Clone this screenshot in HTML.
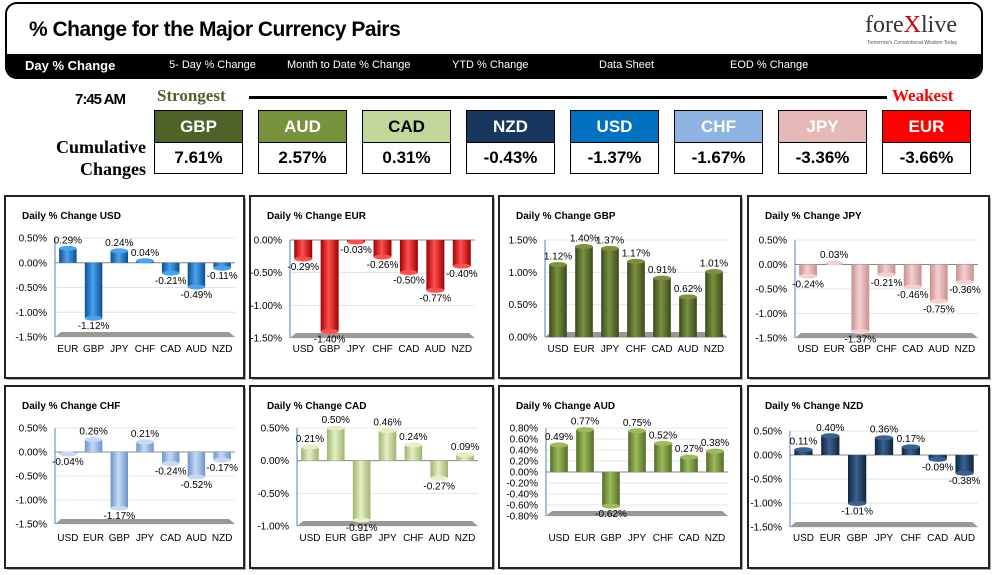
<!DOCTYPE html>
<html><head><meta charset="utf-8"><style>
body{margin:0;width:996px;height:575px;background:#fff;font-family:"Liberation Sans",sans-serif;position:relative;overflow:hidden}
.abs{position:absolute}
.hdr{left:5px;top:2px;width:974px;height:73px;border:2px solid #000;border-radius:12px;overflow:hidden}
.title{left:22px;top:14px;font-size:21px;font-weight:bold;letter-spacing:-0.5px}
.nav{left:0;top:50px;width:100%;height:23px;background:#000;color:#fff;font-size:11px}
.nav span{position:absolute;top:5px}
.box{width:87px;border:1px solid #000}
.bh{height:31px;font-size:17px;font-weight:bold;text-align:center;line-height:31px;border-bottom:1px solid #000}
.bv{height:30px;font-size:17px;font-weight:bold;text-align:center;line-height:30px;background:#fff}
.panel{border:2px solid #222;box-shadow:2px 2px 2px #999;background:#fff}
</style></head><body>
<div class="abs hdr">
<div class="abs title">% Change for the Major Currency Pairs</div>
<div class="abs" style="left:858px;top:8px;font-size:24px;font-family:'Liberation Serif',serif;color:#333">fore<span style="color:#c00">X</span>live</div>
<div class="abs" style="left:860px;top:36px;font-size:5px;color:#555">Tomorrow's Conventional Wisdom Today</div>
<div class="abs nav">
<span style="left:18px;font-size:13px;font-weight:bold;top:4px">Day % Change</span>
<span style="left:162px">5- Day % Change</span>
<span style="left:280px">Month to Date % Change</span>
<span style="left:445px">YTD % Change</span>
<span style="left:592px">Data Sheet</span>
<span style="left:723px">EOD % Change</span>
</div></div>
<div class="abs" style="left:75px;top:91px;font-size:15px;font-weight:bold;letter-spacing:-1px">7:45 AM</div>
<div class="abs" style="left:157px;top:86px;font-size:17px;font-weight:bold;color:#4f6228;font-family:'Liberation Serif',serif">Strongest</div>
<div class="abs" style="left:249px;top:96px;width:638px;height:3px;background:#000"></div>
<div class="abs" style="left:892px;top:86px;font-size:17px;font-weight:bold;color:#f00;font-family:'Liberation Serif',serif">Weakest</div>
<div class="abs" style="left:50px;top:136px;font-size:18px;font-weight:bold;text-align:right;width:96px;line-height:22px;font-family:'Liberation Serif',serif">Cumulative<br>Changes</div>
<div id="boxes"></div>
<div id="charts"></div>
<script>
const rankCurrencies=["GBP","AUD","CAD","NZD","USD","CHF","JPY","EUR"];
const rankValues=["7.61%","2.57%","0.31%","-0.43%","-1.37%","-1.67%","-3.36%","-3.66%"];
const rankColors=["#4f6228","#77933c","#c4d79b","#17375e","#0070c0","#8db4e2","#e6b9b8","#ff0000"];
const rankText=["#fff","#fff","#000","#fff","#fff","#fff","#fff","#fff"];
const bx=document.getElementById('boxes');
rankCurrencies.forEach((c,i)=>{
 const d=document.createElement('div');
 d.className='abs box';d.style.left=(154+i*104)+'px';d.style.top='110px';
 
 
 d.innerHTML='<div class="bh" style="background:'+rankColors[i]+';color:'+rankText[i]+'">'+c+'</div><div class="bv">'+rankValues[i]+'</div>';
 bx.appendChild(d);
});

const usdCats=["EUR","GBP","JPY","CHF","CAD","AUD","NZD"];
const usdVals=[0.29,-1.12,0.24,0.04,-0.21,-0.49,-0.11];
const eurCats=["USD","GBP","JPY","CHF","CAD","AUD","NZD"];
const eurVals=[-0.29,-1.40,-0.03,-0.26,-0.50,-0.77,-0.40];
const gbpCats=["USD","EUR","JPY","CHF","CAD","AUD","NZD"];
const gbpVals=[1.12,1.40,1.37,1.17,0.91,0.62,1.01];
const jpyCats=["USD","EUR","GBP","CHF","CAD","AUD","NZD"];
const jpyVals=[-0.24,0.03,-1.37,-0.21,-0.46,-0.75,-0.36];
const chfCats=["USD","EUR","GBP","JPY","CAD","AUD","NZD"];
const chfVals=[-0.04,0.26,-1.17,0.21,-0.24,-0.52,-0.17];
const cadCats=["USD","EUR","GBP","JPY","CHF","AUD","NZD"];
const cadVals=[0.21,0.50,-0.91,0.46,0.24,-0.27,0.09];
const audCats=["USD","EUR","GBP","JPY","CHF","CAD","NZD"];
const audVals=[0.49,0.77,-0.62,0.75,0.52,0.27,0.38];
const nzdCats=["USD","EUR","GBP","JPY","CHF","CAD","AUD"];
const nzdVals=[0.11,0.40,-1.01,0.36,0.17,-0.09,-0.38];
const usdTicks=[0.5,0,-0.5,-1,-1.5];
const eurTicks=[0,-0.5,-1,-1.5];
const gbpTicks=[1.5,1,0.5,0];
const audTicks=[0.8,0.6,0.4,0.2,0,-0.2,-0.4,-0.6,-0.8];
const cadTicks=[0.5,0,-0.5,-1];

const charts=[
 {k:'usd',t:'Daily % Change USD',cats:usdCats,vals:usdVals,ticks:usdTicks,c:['#0b4f8f','#4aa3f0'],px:5,py:196,w:239,h:182,x0:55,x1:235,yt:238,yb:337,ly:352},
 {k:'eur',t:'Daily % Change EUR',cats:eurCats,vals:eurVals,ticks:eurTicks,c:['#a00000','#ff5050'],px:250,py:196,w:243,h:182,x0:290,x1:475,yt:240,yb:338,ly:352},
 {k:'gbp',t:'Daily % Change GBP',cats:gbpCats,vals:gbpVals,ticks:gbpTicks,c:['#3b4a1c','#7a9140'],px:499,py:196,w:242,h:182,x0:545,x1:727,yt:240,yb:337,ly:352},
 {k:'jpy',t:'Daily % Change JPY',cats:jpyCats,vals:jpyVals,ticks:usdTicks,c:['#c99090','#f5d0d0'],px:748,py:196,w:241,h:182,x0:795,x1:978,yt:240,yb:338,ly:352},
 {k:'chf',t:'Daily % Change CHF',cats:chfCats,vals:chfVals,ticks:usdTicks,c:['#6b95c8','#c5daf5'],px:5,py:386,w:239,h:182,x0:55,x1:235,yt:428,yb:524,ly:541},
 {k:'cad',t:'Daily % Change CAD',cats:cadCats,vals:cadVals,ticks:cadTicks,c:['#9fb470','#e3f0c4'],px:250,py:386,w:243,h:182,x0:297,x1:478,yt:428,yb:526,ly:541},
 {k:'aud',t:'Daily % Change AUD',cats:audCats,vals:audVals,ticks:audTicks,c:['#566e28','#9cbb5a'],px:499,py:386,w:242,h:182,x0:546,x1:728,yt:428,yb:516,ly:541},
 {k:'nzd',t:'Daily % Change NZD',cats:nzdCats,vals:nzdVals,ticks:usdTicks,c:['#0f2540','#3a6290'],px:748,py:386,w:241,h:182,x0:790,x1:978,yt:431,yb:527,ly:541},
];
const NS='http://www.w3.org/2000/svg';
const svg=document.createElementNS(NS,'svg');
svg.setAttribute('width','996');svg.setAttribute('height','575');
svg.setAttribute('style','position:absolute;left:0;top:0');
document.getElementById('charts').appendChild(svg);
function el(tag,attrs,parent){const e=document.createElementNS(NS,tag);for(const a in attrs)e.setAttribute(a,attrs[a]);parent.appendChild(e);return e;}
const defs=el('defs',{},svg);
charts.forEach(ch=>{
 const g=el('g',{},svg);
 
 
 el('rect',{x:ch.px+2,y:ch.py+2,width:ch.w,height:ch.h,fill:'#aaa'},g);
 el('rect',{x:ch.px,y:ch.py,width:ch.w,height:ch.h,fill:'#fff',stroke:'#222','stroke-width':2},g);
 const tt=el('text',{x:ch.px+17,y:ch.py+23,'font-size':10,'font-weight':'bold'},g);tt.textContent=ch.t;
 
 
 const gr=el('linearGradient',{id:'g'+ch.k,x1:0,x2:1,y1:0,y2:0},defs);
 el('stop',{offset:'0','stop-color':ch.c[0]},gr);el('stop',{offset:'0.45','stop-color':ch.c[1]},gr);el('stop',{offset:'1','stop-color':ch.c[0]},gr);
 const tmax=Math.max(...ch.ticks),tmin=Math.min(...ch.ticks);
 const y=v=>ch.yt+(tmax-v)/(tmax-tmin)*(ch.yb-ch.yt);
 const dec=ch.k==='aud'?2:2;
 ch.ticks.forEach(t=>{
  el('line',{x1:ch.x0,x2:ch.x1,y1:y(t),y2:y(t),stroke:'#e4e4e4'},g);
  const l=el('text',{x:ch.x0-8,y:y(t)+3.5,'font-size':10,'text-anchor':'end'},g);
  l.textContent=t.toFixed(dec)+'%';
 });
 el('polygon',{points:`${ch.x0},${ch.yb} ${ch.x1},${ch.yb} ${ch.x1-6},${ch.yb-5} ${ch.x0+6},${ch.yb-5}`,fill:'#999'},g);
 el('line',{x1:ch.x0,x2:ch.x0,y1:ch.yt,y2:ch.yb,stroke:'#4f81bd'},g);
 el('line',{x1:ch.x0,x2:ch.x1,y1:y(0),y2:y(0),stroke:'#888'},g);
 const slot=(ch.x1-ch.x0)/ch.cats.length,bw=slot*0.68;
 ch.cats.forEach((c,i)=>{
  const cx=ch.x0+slot*(i+0.5),v=ch.vals[i];
  const y0=y(0),y1=y(v);
  const r=el('rect',{x:cx-bw/2,y:Math.min(y0,y1),width:bw,height:Math.max(1.5,Math.abs(y1-y0)),fill:'url(#g'+ch.k+')'},g);
  
  
  el('ellipse',{cx:cx,cy:y1,rx:bw/2,ry:2.5,fill:ch.c[1]},g);
  const vl=el('text',{x:cx,y:v>=0?y1-5:y1+11,'font-size':10,'text-anchor':'middle'},g);
  vl.textContent=v.toFixed(2)+'%';
  const cl=el('text',{x:cx,y:ch.ly,'font-size':10,'text-anchor':'middle'},g);
  cl.textContent=c;
 });
});
</script>
</body></html>
